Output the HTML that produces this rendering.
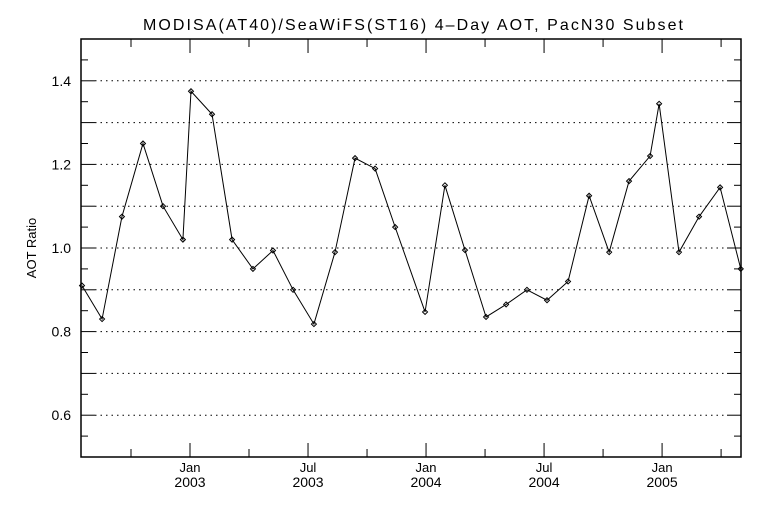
<!DOCTYPE html>
<html><head><meta charset="utf-8"><style>
html,body{margin:0;padding:0;background:#fff;}
svg{display:block;font-family:"Liberation Sans",sans-serif;}
</style></head><body>
<svg id="chart" width="768" height="512" viewBox="0 0 768 512">
<text x="413" y="30" text-anchor="middle" font-size="16" textLength="540" lengthAdjust="spacing" fill="#000">MODISA(AT40)/SeaWiFS(ST16) 4–Day AOT, PacN30 Subset</text>
<text transform="translate(36,248) rotate(-90)" text-anchor="middle" font-size="13" fill="#000">AOT Ratio</text>
<g id="grid"></g><g id="axes"></g><g id="series"></g>
</svg>
<script>
// months since Jan 2003
const monthOffsets=[-5.49,-4.47,-3.46,-2.39,-1.37,-0.36,0.05,1.12,2.14,3.2,4.22,5.24,6.3,7.37,8.39,9.41,10.43,11.95,12.96,13.98,15.05,16.07,17.13,18.15,19.22,20.29,21.31,22.32,23.39,23.85,24.86,25.88,26.95,28.0];
const ratios=[0.91,0.83,1.075,1.25,1.10,1.02,1.375,1.32,1.02,0.95,0.994,0.90,0.818,0.99,1.215,1.19,1.05,0.847,1.15,0.995,0.835,0.865,0.90,0.875,0.92,1.125,0.99,1.16,1.22,1.345,0.99,1.075,1.145,0.95];
const yTicks=[0.6,0.8,1.0,1.2,1.4];
const yTickLabels=["0.6","0.8","1.0","1.2","1.4"];
const xTicks=[0,6,12,18,24];
const xMonthLabels=["Jan","Jul","Jan","Jul","Jan"];
const xYearLabels=["2003","2003","2004","2004","2005"];

const L=81,R=741,T=39,B=457;
const X=m=>190+m*19.67;
const Y=v=>B-(v-0.5)/1.0*(B-T);
const NS="http://www.w3.org/2000/svg";
function mk(tag,attrs,parent){const e=document.createElementNS(NS,tag);for(const k in attrs)e.setAttribute(k,attrs[k]);parent.appendChild(e);return e;}
const grid=document.getElementById('grid'),axes=document.getElementById('axes'),ser=document.getElementById('series');

let frame=mk('rect',{x:L,y:T,width:R-L,height:B-T,fill:'none',stroke:'#000','stroke-width':1.5},axes);



for(let v=0.6;v<1.45;v+=0.1){
  const y=Y(v);
  const g=mk('line',{x1:L+14,x2:R-14,y1:y,y2:y,stroke:'#000','stroke-width':1,'stroke-dasharray':'1.5,4'},grid);
  
  
}
for(let v=0.5;v<1.5;v+=0.05){
  const y=Y(v);const major=Math.abs(Math.round(v*10)-v*10)<0.01;const len=major?14:7;
  mk('line',{x1:L,x2:L+len,y1:y,y2:y,stroke:'#000'},axes);
  mk('line',{x1:R-len,x2:R,y1:y,y2:y,stroke:'#000'},axes);
}
yTicks.forEach((v,i)=>{
  const t=mk('text',{x:L-10,y:Y(v)+5,'text-anchor':'end','font-size':14},axes);
  t.textContent=yTickLabels[i];
  
  
});
for(let m=-3;m<=27;m+=3){
  const x=X(m);const major=m%6===0;const len=major?14:8;
  mk('line',{x1:x,x2:x,y1:B,y2:B-len,stroke:'#000'},axes);
  mk('line',{x1:x,x2:x,y1:T,y2:T+len,stroke:'#000'},axes);
}
xTicks.forEach((m,i)=>{
  const t1=mk('text',{x:X(m),y:472,'text-anchor':'middle','font-size':13},axes);
  t1.textContent=xMonthLabels[i];
  
  
  const t2=mk('text',{x:X(m),y:487,'text-anchor':'middle','font-size':14},axes);
  t2.textContent=xYearLabels[i];
  
  
});
const pts=monthOffsets.map((m,i)=>[X(m),Y(ratios[i])]);
const line=mk('polyline',{points:pts.map(p=>p.join(',')).join(' '),fill:'none',stroke:'#000','stroke-width':1},ser);


pts.forEach(p=>{
  const d=mk('path',{d:`M${p[0]-2.5},${p[1]}L${p[0]},${p[1]-2.5}L${p[0]+2.5},${p[1]}L${p[0]},${p[1]+2.5}Z`,fill:'none',stroke:'#000','stroke-width':1},ser);
  
  
});
</script>
</body></html>
